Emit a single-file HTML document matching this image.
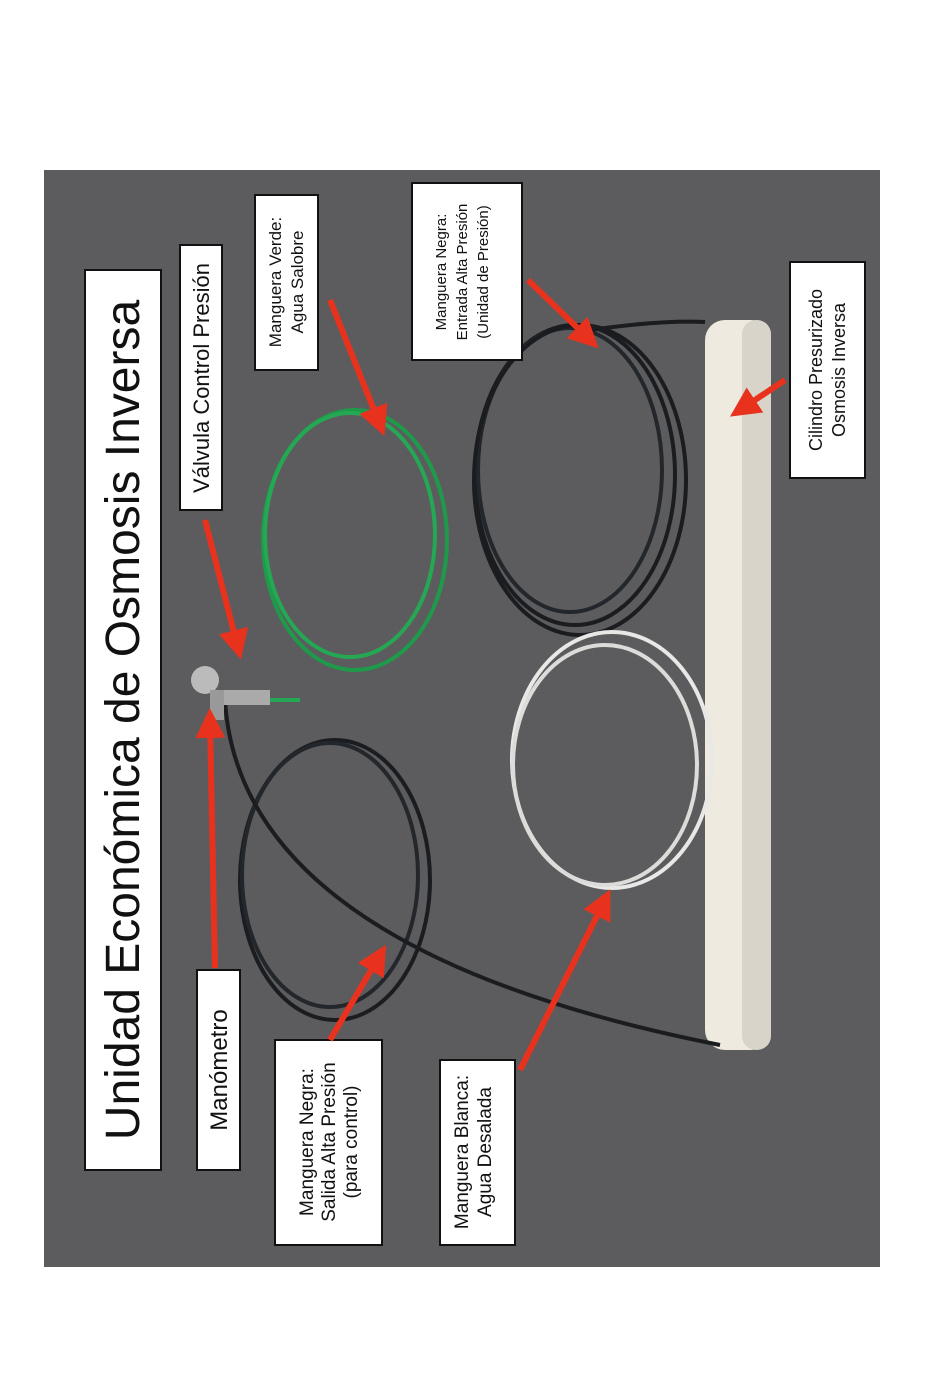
<!DOCTYPE html>
<html><head><meta charset="utf-8"><style>
html,body{margin:0;padding:0;background:#fff;}
svg{display:block}
text{font-family:"Liberation Sans",sans-serif;fill:#111}
</style></head><body>
<svg width="950" height="1399" viewBox="0 0 950 1399" xmlns="http://www.w3.org/2000/svg">
<defs>
<marker id="ah" markerWidth="5" markerHeight="5" refX="3" refY="2.5" orient="auto" markerUnits="strokeWidth"><path d="M0,0 L5,2.5 L0,5 z" fill="#e8321e"/></marker>
</defs>
<rect x="0" y="0" width="950" height="1399" fill="#fff"/>
<rect x="44" y="170" width="836" height="1097" fill="#5c5c5e"/>
<rect x="705" y="320" width="66" height="730" rx="20" fill="#eeeae0"/>
<rect x="742" y="320" width="29" height="730" rx="14" fill="#d8d4ca"/>
<g fill="none" stroke-width="4">
<ellipse cx="355" cy="540" rx="92" ry="130" stroke="#1e9a4a"/>
<ellipse cx="350" cy="535" rx="85" ry="122" stroke="#25a854"/>
<ellipse cx="575" cy="475" rx="100" ry="150" stroke="#1a1c20"/>
<ellipse cx="570" cy="470" rx="92" ry="142" stroke="#23262b"/>
<ellipse cx="580" cy="480" rx="106" ry="155" stroke="#1a1c20"/>
<ellipse cx="335" cy="880" rx="95" ry="140" stroke="#1a1c20"/>
<ellipse cx="330" cy="875" rx="88" ry="132" stroke="#23262b"/>
<ellipse cx="612" cy="760" rx="100" ry="128" stroke="#e8e8e6"/>
<ellipse cx="605" cy="765" rx="92" ry="120" stroke="#dcdcda"/>
<path d="M225 700 Q240 950 720 1045" stroke="#1a1c20"/>
<path d="M590 330 Q660 320 705 322" stroke="#1a1c20"/>
<path d="M270 700 L300 700" stroke="#25a854"/>
</g>
<circle cx="205" cy="680" r="14" fill="#bbb"/>
<rect x="220" y="690" width="50" height="15" fill="#aaa"/>
<rect x="210" y="690" width="14" height="30" fill="#999"/>
<g fill="#fff" stroke="#111" stroke-width="2">
<rect x="85" y="270" width="76" height="900"/>
<rect x="197" y="970" width="43" height="200"/>
<rect x="180" y="245" width="42" height="265"/>
<rect x="255" y="195" width="63" height="175"/>
<rect x="412" y="183" width="110" height="177"/>
<rect x="790" y="262" width="75" height="216"/>
<rect x="275" y="1040" width="107" height="205"/>
<rect x="440" y="1060" width="75" height="185"/>
</g>
<g text-anchor="middle">
<text transform="translate(139,720) rotate(-90)" font-size="48">Unidad Económica de Osmosis Inversa</text>
<text transform="translate(227,1070) rotate(-90)" font-size="24">Manómetro</text>
<text transform="translate(209,378) rotate(-90)" font-size="22">Válvula Control Presión</text>
<text transform="translate(281,282) rotate(-90)" font-size="17">Manguera Verde:</text>
<text transform="translate(303,282) rotate(-90)" font-size="17">Agua Salobre</text>
<text transform="translate(446,272) rotate(-90)" font-size="15">Manguera Negra:</text>
<text transform="translate(467,272) rotate(-90)" font-size="15">Entrada Alta Presión</text>
<text transform="translate(488,272) rotate(-90)" font-size="15">(Unidad de Presión)</text>
<text transform="translate(822,370) rotate(-90)" font-size="18">Cilindro Presurizado</text>
<text transform="translate(845,370) rotate(-90)" font-size="18">Osmosis Inversa</text>
<text transform="translate(313,1142) rotate(-90)" font-size="19">Manguera Negra:</text>
<text transform="translate(335,1142) rotate(-90)" font-size="19">Salida Alta Presión</text>
<text transform="translate(357,1142) rotate(-90)" font-size="19">(para control)</text>
<text transform="translate(468,1152) rotate(-90)" font-size="19">Manguera Blanca:</text>
<text transform="translate(491,1152) rotate(-90)" font-size="19">Agua Desalada</text>
</g>
<g stroke="#e8321e" stroke-width="6" fill="none" marker-end="url(#ah)">
<line x1="205" y1="520" x2="238" y2="648"/>
<line x1="330" y1="300" x2="380" y2="425"/>
<line x1="528" y1="280" x2="590" y2="340"/>
<line x1="785" y1="380" x2="740" y2="410"/>
<line x1="215" y1="968" x2="210" y2="720"/>
<line x1="330" y1="1040" x2="380" y2="955"/>
<line x1="520" y1="1070" x2="605" y2="900"/>
</g>
</svg>
</body></html>
